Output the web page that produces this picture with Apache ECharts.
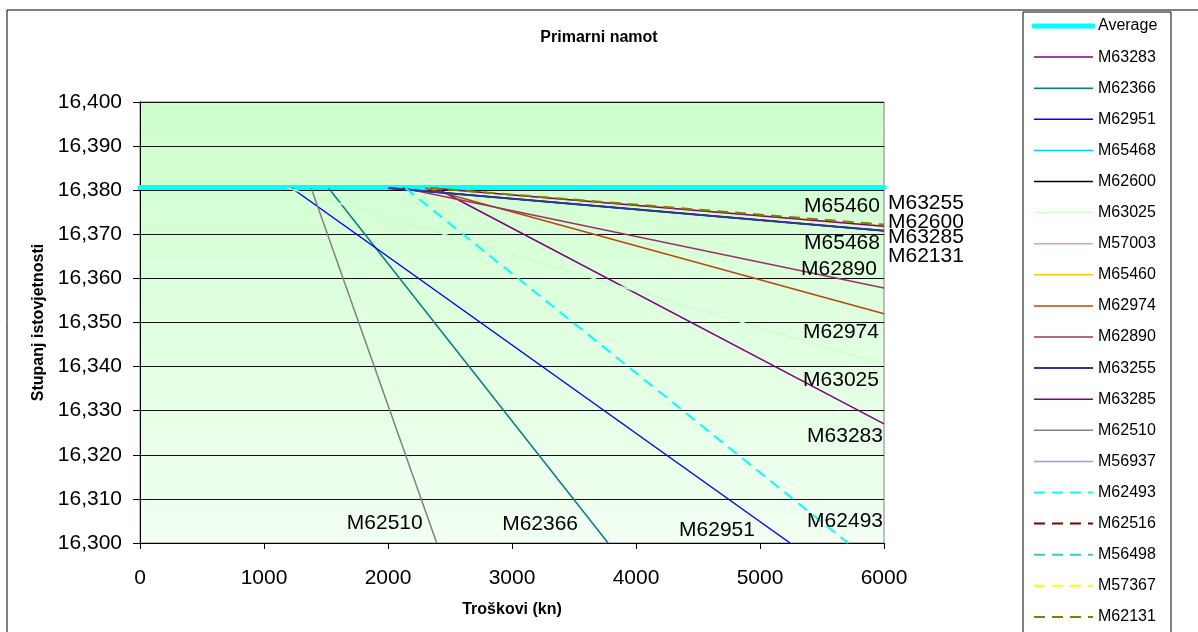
<!DOCTYPE html>
<html>
<head>
<meta charset="utf-8">
<script src="https://cdn.jsdelivr.net/npm/echarts@6/dist/echarts.min.js"></script>
<style>
html, body { margin: 0; padding: 0; background: #fff; }
#main { width: 1198px; height: 632px; }
</style>
</head>
<body>
<div id="main"></div>
<script>
// podaci: [troškovi, stupanj istovjetnosti]
var average = [[0, 16.3806], [6000, 16.3806]];
var m63283 = [[2385, 16.3805], [6000, 16.3270]];
var m62366 = [[1520, 16.3805], [3775, 16.3000]];
var m62951 = [[1223, 16.3805], [5242, 16.3000]];
var m65468 = [[2000, 16.3805], [6000, 16.3708]];
var m62600 = [[2000, 16.3805], [6000, 16.3708]];
var m63025 = [[1190, 16.3805], [6000, 16.3405]];
var m57003 = [];
var m65460 = [[2340, 16.3805], [6000, 16.3718]];
var m62974 = [[2300, 16.3805], [6000, 16.3520]];
var m62890 = [[2120, 16.3805], [6000, 16.3578]];
var m63255 = [[2000, 16.3805], [6000, 16.3708]];
var m63285 = [[2340, 16.3805], [6000, 16.3718]];
var m62510 = [[1380, 16.3805], [2393, 16.3000]];
var m56937 = [];
var m62493 = [[2140, 16.3805], [5710, 16.3000]];
var m62516 = [];
var m56498 = [];
var m57367 = [];
var m62131 = [[2340, 16.3805], [6000, 16.3722]];

var names = ['Average', 'M63283', 'M62366', 'M62951', 'M65468', 'M62600', 'M63025', 'M57003',
    'M65460', 'M62974', 'M62890', 'M63255', 'M63285', 'M62510', 'M56937', 'M62493',
    'M62516', 'M56498', 'M57367', 'M62131'];
var seriesData = [average, m63283, m62366, m62951, m65468, m62600, m63025, m57003,
    m65460, m62974, m62890, m63255, m63285, m62510, m56937, m62493,
    m62516, m56498, m57367, m62131];
var colors = ['#00FFFF', '#800080', '#008080', '#0000FF', '#00CCFF', '#000000', '#CCFFCC', '#CC99FF',
    '#FFCC00', '#B8470E', '#993366', '#333399', '#800080', '#808080', '#9999FF', '#00FFFF',
    '#800000', '#33CCCC', '#FFFF00', '#808000'];
var dashed = [false, false, false, false, false, false, false, false,
    false, false, false, false, false, false, false, true,
    true, true, true, true];

// natpisi uz krajeve linija: [serija, pomak x, pomak y, poravnanje]
var endLabels = [
    ['M62510', -52, -20, 'center'],
    ['M62366', -68, -19, 'center'],
    ['M62951', -73, -13, 'center'],
    ['M62493', -3, -22, 'center'],
    ['M63283', -39, 12, 'center'],
    ['M63025', -43, 16, 'center'],
    ['M62974', -43, 19, 'center'],
    ['M62890', -45, -19, 'center'],
    ['M65468', -42, 12, 'center'],
    ['M65460', -42, -20, 'center'],
    ['M63255', 4, -28, 'left'],
    ['M62600', 4, -9, 'left'],
    ['M63285', 4, 11, 'left'],
    ['M62131', 4, 32, 'left']
];

var fontFam = 'Liberation Sans, Arial, sans-serif';

var series = names.map(function (n, i) {
    var w = 1.5;
    if (i === 0) w = 5;
    else if (dashed[i]) w = 2;
    else if (n === 'M63255') w = 2;
    return {
        name: n,
        type: 'line',
        data: seriesData[i],
        symbol: 'none',
        animation: false,
        color: colors[i],
        lineStyle: {
            color: colors[i],
            width: w,
            type: dashed[i] ? [11, 7] : 'solid',
            cap: i === 0 ? 'round' : 'butt'
        }
    };
});

var chart = echarts.init(document.getElementById('main'));
var option = {
    backgroundColor: '#fff',
    animation: false,
    title: {
        text: 'Primarni namot',
        left: 'center',
        top: 30,
        padding: 0,
        textStyle: { fontSize: 16, fontWeight: 'bold', color: '#000', fontFamily: fontFam }
    },
    legend: {
        data: names,
        orient: 'vertical',
        left: 1031.5,
        top: 18,
        padding: 0,
        itemWidth: 59,
        itemHeight: 16,
        itemGap: 15.1,
        selectedMode: false,
        itemStyle: { opacity: 0 },
        lineStyle: { width: 'inherit' },
        textStyle: { fontSize: 16, color: '#000', fontFamily: fontFam, lineHeight: 16 }
    },
    grid: {
        left: 140,
        top: 102,
        width: 744,
        height: 441,
        show: true,
        borderColor: '#808080',
        borderWidth: 1,
        backgroundColor: new echarts.graphic.LinearGradient(0, 0, 0, 1, [
            { offset: 0, color: '#CCFFCC' },
            { offset: 1, color: '#F2FFF2' }
        ])
    },
    xAxis: {
        type: 'value',
        min: 0,
        max: 6000,
        interval: 1000,
        name: 'Troškovi (kn)',
        nameLocation: 'middle',
        nameGap: 59,
        nameTextStyle: { fontSize: 16, fontWeight: 'bold', color: '#000', fontFamily: fontFam },
        axisLine: { show: true, lineStyle: { color: '#000', width: 1 } },
        axisTick: { show: true, inside: false, length: 6, lineStyle: { color: '#000' } },
        axisLabel: {
            fontSize: 21,
            color: '#000',
            margin: 25,
            fontFamily: fontFam,
            formatter: function (v) {
                return String(v);
            }
        },
        splitLine: { show: false }
    },
    yAxis: {
        type: 'value',
        min: 16.3,
        max: 16.4,
        interval: 0.01,
        name: 'Stupanj istovjetnosti',
        nameLocation: 'middle',
        nameGap: 92,
        nameTextStyle: { fontSize: 16, fontWeight: 'bold', color: '#000', fontFamily: fontFam },
        axisLine: { show: true, lineStyle: { color: '#000', width: 1 } },
        axisTick: { show: true, inside: false, length: 7, lineStyle: { color: '#000' } },
        axisLabel: {
            fontSize: 21,
            color: '#000',
            margin: 18,
            fontFamily: fontFam,
            formatter: function (v) {
                return v.toFixed(3).replace('.', ',');
            }
        },
        splitLine: { show: true, lineStyle: { color: '#111', width: 1 } }
    },
    series: series
};
chart.setOption(option);

// okviri i natpisi
var graphics = [
    {
        type: 'rect',
        shape: { x: 7, y: 10, width: 1400, height: 800 },
        style: { fill: null, stroke: '#000', lineWidth: 1 },
        silent: true,
        z: 100
    },
    {
        type: 'rect',
        shape: { x: 1023, y: 12, width: 148, height: 800 },
        style: { fill: null, stroke: '#000', lineWidth: 1 },
        silent: true,
        z: 100
    }
];
endLabels.forEach(function (l) {
    var d = seriesData[names.indexOf(l[0])];
    var p = chart.convertToPixel({ gridIndex: 0 }, d[d.length - 1]);
    graphics.push({
        type: 'text',
        x: p[0] + l[1],
        y: p[1] + l[2],
        z: 100,
        silent: true,
        style: {
            text: l[0],
            fontSize: 21,
            fontFamily: fontFam,
            fill: '#000',
            align: l[3],
            verticalAlign: 'middle'
        }
    });
});
chart.setOption({ graphic: graphics });
</script>
</body>
</html>
